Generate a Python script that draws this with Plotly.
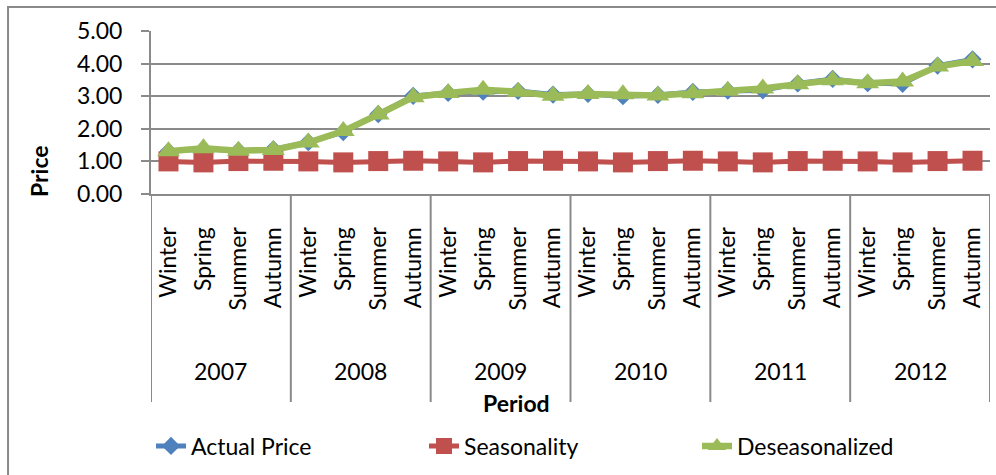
import plotly.graph_objects as go

years = ["2007", "2008", "2009", "2010", "2011", "2012"]
seasons = ["Winter", "Spring", "Summer", "Autumn"]

actual_price = [1.31, 1.38, 1.33, 1.37,
                1.59, 1.90, 2.45, 3.01,
                3.10, 3.14, 3.16, 3.05,
                3.07, 3.00, 3.04, 3.13,
                3.17, 3.18, 3.39, 3.53,
                3.40, 3.38, 3.94, 4.13]
seasonality = [1.00, 0.97, 1.01, 1.02,
               1.00, 0.97, 1.01, 1.02,
               1.00, 0.97, 1.01, 1.02,
               1.00, 0.97, 1.01, 1.02,
               1.00, 0.97, 1.01, 1.02,
               1.00, 0.97, 1.01, 1.02]
deseasonalized = [1.31, 1.40, 1.33, 1.35,
                  1.58, 1.93, 2.44, 2.97,
                  3.10, 3.20, 3.14, 3.01,
                  3.07, 3.06, 3.02, 3.09,
                  3.17, 3.24, 3.37, 3.49,
                  3.40, 3.45, 3.91, 4.08]

cats = [f"{y} {s}" for y in years for s in seasons]
tick_text = [s for y in years for s in seasons]

GRID = "#8a8a8a"
FONT = "Lato"
FS = 23

fig = go.Figure()
fig.add_trace(go.Scatter(
    x=cats, y=actual_price, name="Actual Price", mode="lines+markers",
    line=dict(color="#4F81BD", width=5),
    marker=dict(symbol="diamond", size=14, color="#4F81BD")))
fig.add_trace(go.Scatter(
    x=cats, y=seasonality, name="Seasonality", mode="lines+markers",
    line=dict(color="#C0504D", width=5),
    marker=dict(symbol="square", size=20, color="#C0504D")))
fig.add_trace(go.Scatter(
    x=cats, y=deseasonalized, name="Deseasonalized", mode="lines+markers",
    line=dict(color="#9BBB59", width=6.5),
    marker=dict(symbol="triangle-up", size=20, color="#9BBB59")))

shapes = []
n_per = len(seasons)
for k in range(len(years) + 1):
    shapes.append(dict(type="line", xref="x", yref="paper",
                       x0=k * n_per - 0.5, x1=k * n_per - 0.5,
                       y0=0, y1=-1.276, line=dict(color=GRID, width=2)))
shapes.append(dict(type="rect", xref="paper", yref="paper",
                   x0=-0.1704, x1=1.05, y0=-1.9, y1=1.147,
                   line=dict(color=GRID, width=2)))

annotations = []
for k, y in enumerate(years):
    annotations.append(dict(x=k * n_per + (n_per - 1) / 2, xref="x",
                            y=-1.086, yref="paper", text=y, showarrow=False,
                            xanchor="center", yanchor="middle",
                            font=dict(size=FS, color="black", family=FONT)))
annotations.append(dict(x=0.436, xref="paper", y=-1.282, yref="paper",
                        text="<b>Period</b>", showarrow=False,
                        xanchor="center", yanchor="middle",
                        font=dict(size=FS, color="black", family=FONT)))
annotations.append(dict(x=-0.1335, xref="paper", y=0.141, yref="paper",
                        text="<b>Price</b>", showarrow=False, textangle=-90,
                        xanchor="center", yanchor="middle",
                        font=dict(size=FS, color="black", family=FONT)))

fig.update_layout(
    width=996, height=475,
    margin=dict(l=151, r=6, t=31, b=281, autoexpand=False),
    paper_bgcolor="white", plot_bgcolor="white",
    font=dict(family=FONT, size=FS, color="black"),
    shapes=shapes, annotations=annotations,
    showlegend=True,
    legend=dict(orientation="h", x=0.0, xanchor="left", y=-1.546,
                yanchor="middle", entrywidth=228, entrywidthmode="pixels",
                font=dict(size=FS, family=FONT, color="black"),
                bgcolor="rgba(0,0,0,0)"),
    xaxis=dict(type="category", categoryorder="array", categoryarray=cats,
               tickmode="array", tickvals=cats, ticktext=tick_text,
               tickangle=-90, range=[-0.5, len(cats) - 0.5],
               showgrid=False, showline=True, linecolor=GRID, linewidth=2,
               ticks="", ticklabelstandoff=22,
               tickfont=dict(size=FS, family=FONT, color="black")),
    yaxis=dict(range=[0, 5], dtick=1, tick0=0, tickformat=".2f",
               showgrid=True, gridcolor=GRID, gridwidth=2,
               showline=True, linecolor=GRID, linewidth=2,
               ticks="outside", ticklen=8, tickwidth=2, tickcolor=GRID,
               zeroline=False, ticklabelstandoff=14,
               tickfont=dict(size=FS, family=FONT, color="black")),
)

fig.write_html("out.html")
